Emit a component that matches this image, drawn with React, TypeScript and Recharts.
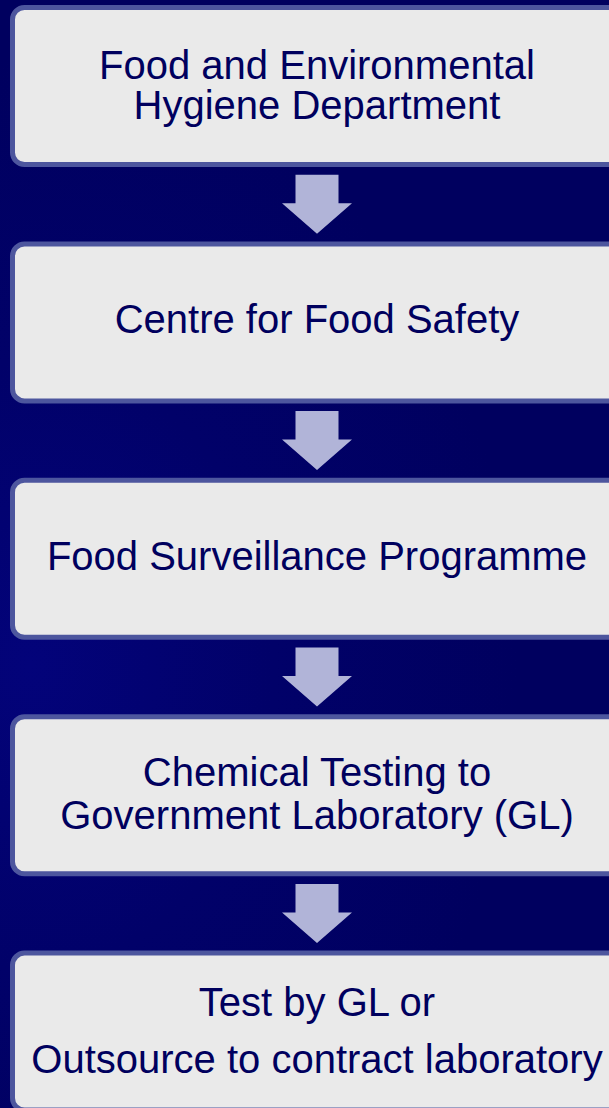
import { ScatterChart, Scatter, XAxis, YAxis } from 'recharts'

// flow steps, top to bottom
const stepLabels = [
  ['Food and Environmental', 'Hygiene Department'],
  ['Centre for Food Safety'],
  ['Food Surveillance Programme'],
  ['Chemical Testing to', 'Government Laboratory (GL)'],
  ['Test by GL or', 'Outsource to contract laboratory'],
]
const stepRows = [0, 1, 2, 3, 4]
const arrowRows = [0.5, 1.5, 2.5, 3.5]

const steps = stepRows.map((row, i) => ({ x: 0.5, y: row, lines: stepLabels[i] }))
const arrows = arrowRows.map((row) => ({ x: 0.5, y: row }))

const BOX_W = 614
const BOX_H = 162
const lineGaps = [40, 0, 0, 43, 57]

const StepBox = (props: any) => {
  const { cx, cy, payload, index } = props
  const lines: string[] = payload.lines
  const gap = lineGaps[index] || 0
  const base = lines.length > 1 ? cy + 12.5 - gap / 2 : cy + 11
  return (
    <g>
      <rect
        x={cx - BOX_W / 2 + 2.5}
        y={cy - BOX_H / 2 + 2.5}
        width={BOX_W - 5}
        height={BOX_H - 5}
        rx={12}
        fill="#eaeaea"
        stroke="#4d569e"
        strokeWidth={5}
      />
      {lines.map((t, k) => (
        <text
          key={k}
          x={cx}
          y={base + k * gap}
          textAnchor="middle"
          fontSize={40}
          fontFamily='"Liberation Sans", Arial, sans-serif'
          fill="#00005e"
        >
          {t}
        </text>
      ))}
    </g>
  )
}

const DownArrow = (props: any) => {
  const { cx, cy } = props
  const d = [
    `M${cx - 21.5},${cy - 29.5}`,
    `L${cx + 21.5},${cy - 29.5}`,
    `L${cx + 21.5},${cy - 1}`,
    `L${cx + 35},${cy - 1}`,
    `L${cx},${cy + 29.5}`,
    `L${cx - 35},${cy - 1}`,
    `L${cx - 21.5},${cy - 1}`,
    'Z',
  ].join(' ')
  return <path d={d} fill="#b1b4d8" />
}

export default function App() {
  return (
    <div
      style={{
        position: 'absolute',
        left: 0,
        top: 0,
        width: 609,
        height: 1108,
        overflow: 'hidden',
        background: 'radial-gradient(ellipse 80% 55% at 5% 60%, #03037a 0%, #010169 50%, #00005f 100%)',
      }}
    >
      <ScatterChart width={609} height={1108} margin={{ top: 86, right: 0, bottom: 76.4, left: 25 }}>
        <XAxis type="number" dataKey="x" domain={[0, 1]} hide />
        <YAxis type="number" dataKey="y" domain={[0, 4]} reversed hide />
        <Scatter data={arrows} shape={DownArrow} isAnimationActive={false} />
        <Scatter data={steps} shape={StepBox} isAnimationActive={false} />
      </ScatterChart>
    </div>
  )
}
